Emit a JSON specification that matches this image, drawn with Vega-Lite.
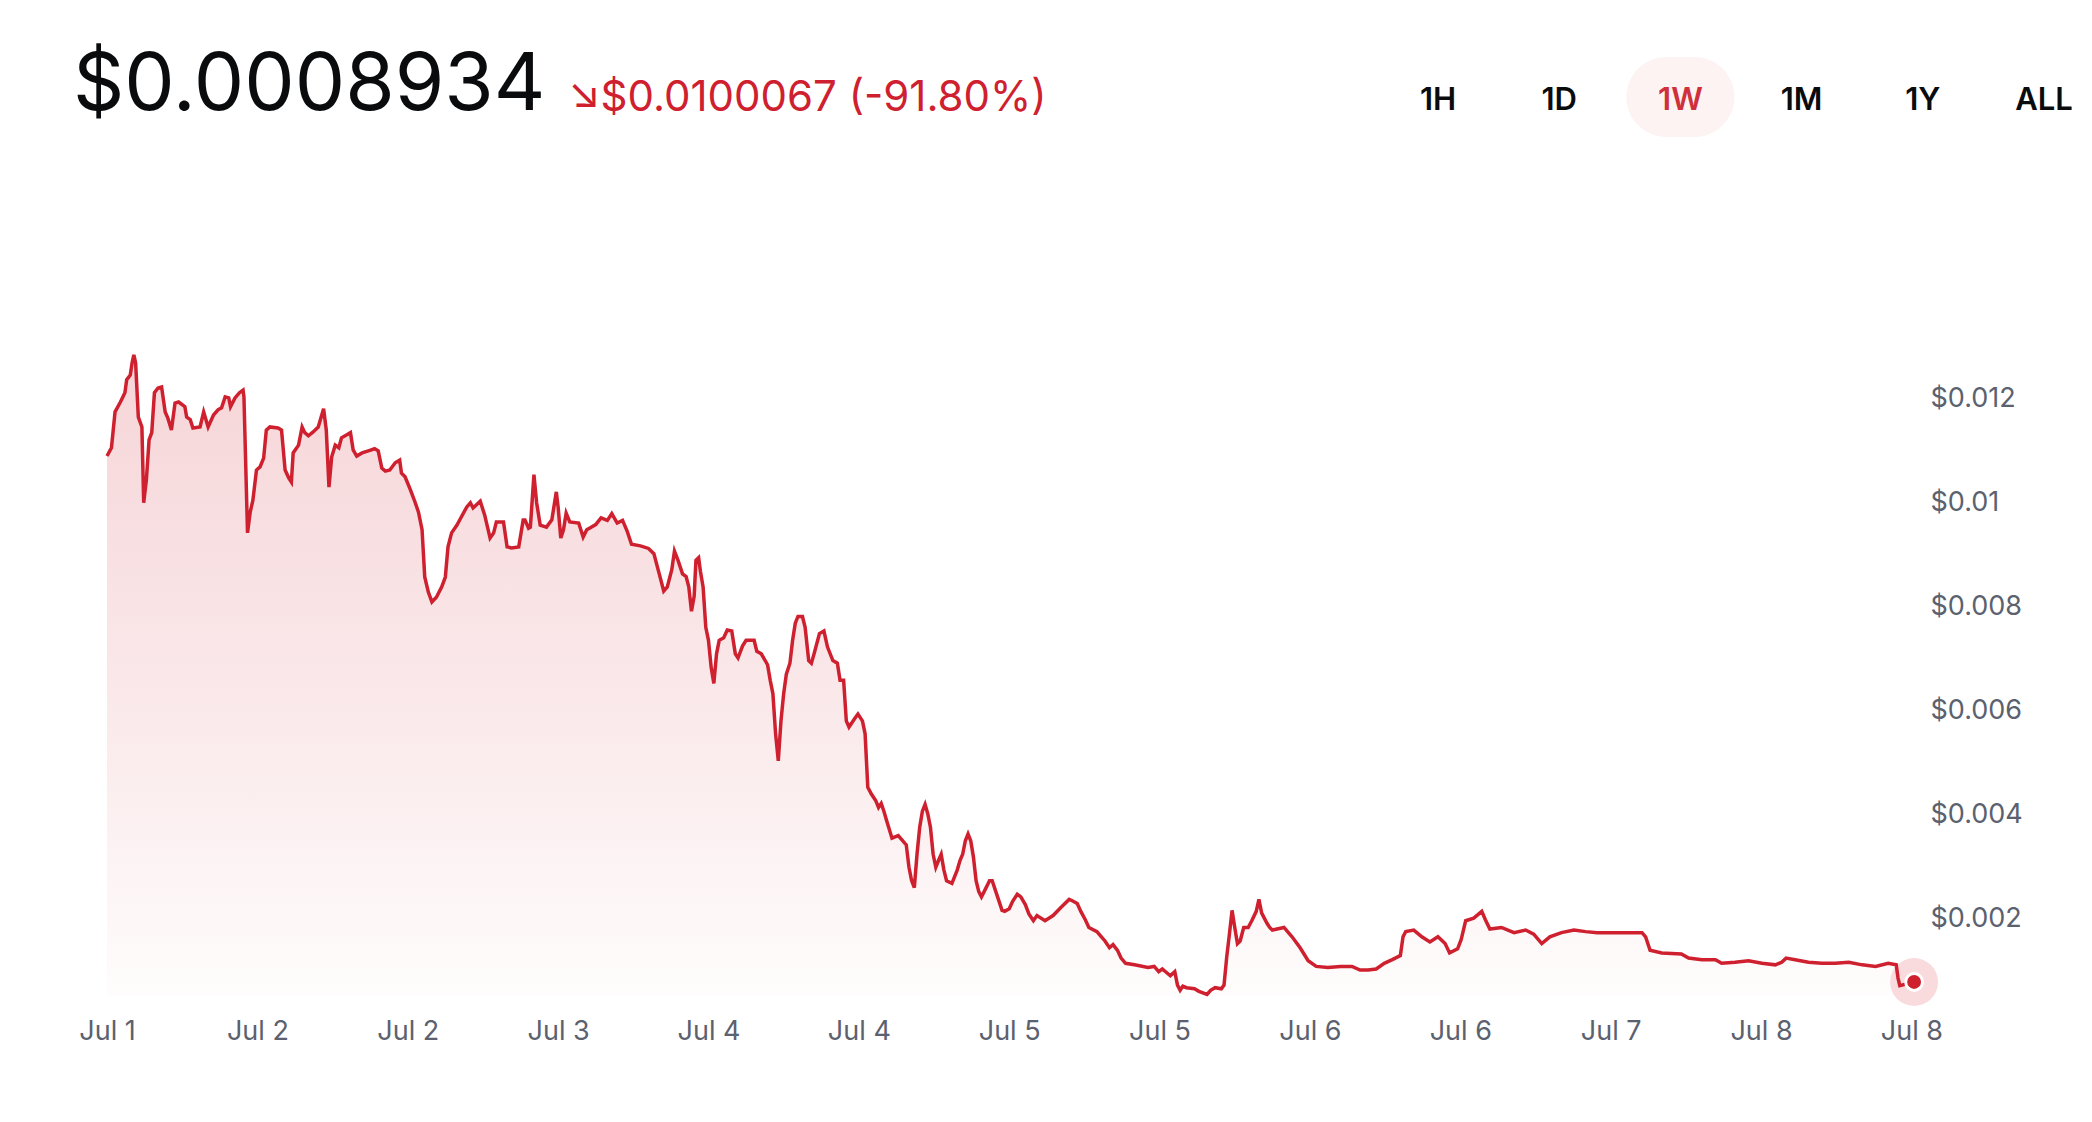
{
  "$schema": "https://vega.github.io/schema/vega-lite/v6.json",
  "background": "white",
  "padding": {"left": 73, "top": 0, "right": 0, "bottom": 40},
  "spacing": 153,
  "config": {"view": {"stroke": null}, "font": "Inter"},
  "datasets": {
    "price": [
      {"t":"2024-07-01T17:00","p":0.01090},{"t":"2024-07-01T17:25","p":0.01106},{"t":"2024-07-01T17:45","p":0.01175},{"t":"2024-07-01T18:15","p":0.01194},
      {"t":"2024-07-01T18:40","p":0.01212},{"t":"2024-07-01T18:50","p":0.01237},{"t":"2024-07-01T19:10","p":0.01246},{"t":"2024-07-01T19:20","p":0.01269},
      {"t":"2024-07-01T19:30","p":0.01285},{"t":"2024-07-01T19:40","p":0.01269},{"t":"2024-07-01T19:55","p":0.01165},{"t":"2024-07-01T20:15","p":0.01146},
      {"t":"2024-07-01T20:25","p":0.01000},{"t":"2024-07-01T20:40","p":0.01044},{"t":"2024-07-01T20:55","p":0.01121},{"t":"2024-07-01T21:10","p":0.01135},
      {"t":"2024-07-01T21:25","p":0.01212},{"t":"2024-07-01T21:45","p":0.01221},{"t":"2024-07-01T22:05","p":0.01223},{"t":"2024-07-01T22:25","p":0.01175},
      {"t":"2024-07-01T22:40","p":0.01163},{"t":"2024-07-01T23:00","p":0.01140},{"t":"2024-07-01T23:20","p":0.01192},{"t":"2024-07-01T23:40","p":0.01194},
      {"t":"2024-07-02T00:15","p":0.01185},{"t":"2024-07-02T00:25","p":0.01165},{"t":"2024-07-02T00:45","p":0.01160},{"t":"2024-07-02T01:00","p":0.01144},
      {"t":"2024-07-02T01:40","p":0.01146},{"t":"2024-07-02T02:00","p":0.01175},{"t":"2024-07-02T02:25","p":0.01146},{"t":"2024-07-02T02:55","p":0.01169},
      {"t":"2024-07-02T03:20","p":0.01179},{"t":"2024-07-02T03:40","p":0.01183},{"t":"2024-07-02T04:00","p":0.01204},{"t":"2024-07-02T04:20","p":0.01202},
      {"t":"2024-07-02T04:30","p":0.01185},{"t":"2024-07-02T04:55","p":0.01202},{"t":"2024-07-02T05:20","p":0.01212},{"t":"2024-07-02T05:40","p":0.01217},
      {"t":"2024-07-02T05:45","p":0.01204},{"t":"2024-07-02T06:05","p":0.00942},{"t":"2024-07-02T06:20","p":0.00982},{"t":"2024-07-02T06:35","p":0.01005},
      {"t":"2024-07-02T06:55","p":0.01063},{"t":"2024-07-02T07:15","p":0.01069},{"t":"2024-07-02T07:35","p":0.01086},{"t":"2024-07-02T07:50","p":0.01140},
      {"t":"2024-07-02T08:10","p":0.01146},{"t":"2024-07-02T08:55","p":0.01144},{"t":"2024-07-02T09:15","p":0.01140},{"t":"2024-07-02T09:35","p":0.01063},
      {"t":"2024-07-02T09:55","p":0.01048},{"t":"2024-07-02T10:10","p":0.01040},{"t":"2024-07-02T10:20","p":0.01096},{"t":"2024-07-02T10:50","p":0.01111},
      {"t":"2024-07-02T11:10","p":0.01146},{"t":"2024-07-02T11:25","p":0.01135},{"t":"2024-07-02T11:45","p":0.01129},{"t":"2024-07-02T12:10","p":0.01136},
      {"t":"2024-07-02T12:40","p":0.01146},{"t":"2024-07-02T13:10","p":0.01181},{"t":"2024-07-02T13:25","p":0.01140},{"t":"2024-07-02T13:40","p":0.01030},
      {"t":"2024-07-02T13:55","p":0.01088},{"t":"2024-07-02T14:15","p":0.01111},{"t":"2024-07-02T14:35","p":0.01106},{"t":"2024-07-02T14:50","p":0.01125},
      {"t":"2024-07-02T15:20","p":0.01131},{"t":"2024-07-02T15:40","p":0.01135},{"t":"2024-07-02T15:55","p":0.01102},{"t":"2024-07-02T16:15","p":0.01090},
      {"t":"2024-07-02T16:45","p":0.01096},{"t":"2024-07-02T17:20","p":0.01100},{"t":"2024-07-02T17:55","p":0.01104},{"t":"2024-07-02T18:15","p":0.01100},
      {"t":"2024-07-02T18:35","p":0.01067},{"t":"2024-07-02T18:55","p":0.01061},{"t":"2024-07-02T19:20","p":0.01063},{"t":"2024-07-02T19:50","p":0.01077},
      {"t":"2024-07-02T20:15","p":0.01082},{"t":"2024-07-02T20:25","p":0.01057},{"t":"2024-07-02T20:45","p":0.01050},{"t":"2024-07-02T21:15","p":0.01025},
      {"t":"2024-07-02T21:40","p":0.01002},{"t":"2024-07-02T22:00","p":0.00982},{"t":"2024-07-02T22:20","p":0.00948},{"t":"2024-07-02T22:35","p":0.00857},
      {"t":"2024-07-02T22:55","p":0.00828},{"t":"2024-07-02T23:15","p":0.00809},{"t":"2024-07-02T23:40","p":0.00818},
      {"t":"2024-07-03T00:10","p":0.00838},{"t":"2024-07-03T00:30","p":0.00857},{"t":"2024-07-03T00:45","p":0.00915},{"t":"2024-07-03T01:05","p":0.00942},
      {"t":"2024-07-03T01:35","p":0.00957},{"t":"2024-07-03T02:00","p":0.00973},{"t":"2024-07-03T02:30","p":0.00992},{"t":"2024-07-03T02:50","p":0.01000},
      {"t":"2024-07-03T03:05","p":0.00990},{"t":"2024-07-03T03:45","p":0.01003},{"t":"2024-07-03T04:10","p":0.00976},{"t":"2024-07-03T04:40","p":0.00932},
      {"t":"2024-07-03T05:00","p":0.00942},{"t":"2024-07-03T05:15","p":0.00963},{"t":"2024-07-03T05:55","p":0.00963},{"t":"2024-07-03T06:15","p":0.00915},
      {"t":"2024-07-03T06:40","p":0.00913},{"t":"2024-07-03T07:20","p":0.00915},{"t":"2024-07-03T07:45","p":0.00967},{"t":"2024-07-03T07:55","p":0.00967},
      {"t":"2024-07-03T08:15","p":0.00951},{"t":"2024-07-03T08:25","p":0.00953},{"t":"2024-07-03T08:45","p":0.01054},{"t":"2024-07-03T09:00","p":0.01000},
      {"t":"2024-07-03T09:20","p":0.00957},{"t":"2024-07-03T09:55","p":0.00953},{"t":"2024-07-03T10:25","p":0.00967},{"t":"2024-07-03T10:50","p":0.01021},
      {"t":"2024-07-03T11:00","p":0.00992},{"t":"2024-07-03T11:15","p":0.00932},{"t":"2024-07-03T11:30","p":0.00948},{"t":"2024-07-03T11:45","p":0.00980},
      {"t":"2024-07-03T12:05","p":0.00963},{"t":"2024-07-03T12:55","p":0.00961},{"t":"2024-07-03T13:20","p":0.00934},{"t":"2024-07-03T13:40","p":0.00948},
      {"t":"2024-07-03T14:00","p":0.00952},{"t":"2024-07-03T14:30","p":0.00958},{"t":"2024-07-03T15:00","p":0.00971},{"t":"2024-07-03T15:35","p":0.00966},
      {"t":"2024-07-03T16:00","p":0.00979},{"t":"2024-07-03T16:30","p":0.00961},{"t":"2024-07-03T17:00","p":0.00966},{"t":"2024-07-03T17:25","p":0.00946},
      {"t":"2024-07-03T17:50","p":0.00920},{"t":"2024-07-03T18:40","p":0.00917},{"t":"2024-07-03T19:25","p":0.00912},{"t":"2024-07-03T19:55","p":0.00902},
      {"t":"2024-07-03T20:25","p":0.00863},{"t":"2024-07-03T20:50","p":0.00830},{"t":"2024-07-03T21:10","p":0.00838},{"t":"2024-07-03T21:35","p":0.00871},
      {"t":"2024-07-03T21:50","p":0.00907},{"t":"2024-07-03T22:10","p":0.00889},{"t":"2024-07-03T22:35","p":0.00863},{"t":"2024-07-03T22:55","p":0.00858},
      {"t":"2024-07-03T23:10","p":0.00838},{"t":"2024-07-03T23:25","p":0.00791},{"t":"2024-07-03T23:40","p":0.00820},{"t":"2024-07-03T23:50","p":0.00889},
      {"t":"2024-07-04T00:05","p":0.00894},{"t":"2024-07-04T00:15","p":0.00868},{"t":"2024-07-04T00:30","p":0.00838},{"t":"2024-07-04T00:45","p":0.00760},
      {"t":"2024-07-04T01:00","p":0.00735},{"t":"2024-07-04T01:15","p":0.00683},{"t":"2024-07-04T01:30","p":0.00652},{"t":"2024-07-04T01:45","p":0.00709},
      {"t":"2024-07-04T02:00","p":0.00735},{"t":"2024-07-04T02:25","p":0.00740},{"t":"2024-07-04T02:45","p":0.00755},{"t":"2024-07-04T03:10","p":0.00753},
      {"t":"2024-07-04T03:30","p":0.00709},{"t":"2024-07-04T03:45","p":0.00701},{"t":"2024-07-04T04:10","p":0.00724},{"t":"2024-07-04T04:30","p":0.00735},
      {"t":"2024-07-04T05:15","p":0.00735},{"t":"2024-07-04T05:30","p":0.00714},{"t":"2024-07-04T05:55","p":0.00709},{"t":"2024-07-04T06:30","p":0.00688},
      {"t":"2024-07-04T06:45","p":0.00658},{"t":"2024-07-04T07:00","p":0.00632},{"t":"2024-07-04T07:15","p":0.00555},{"t":"2024-07-04T07:30","p":0.00503},
      {"t":"2024-07-04T07:45","p":0.00580},{"t":"2024-07-04T08:00","p":0.00632},{"t":"2024-07-04T08:15","p":0.00670},{"t":"2024-07-04T08:35","p":0.00691},
      {"t":"2024-07-04T08:50","p":0.00735},{"t":"2024-07-04T09:05","p":0.00768},{"t":"2024-07-04T09:20","p":0.00781},{"t":"2024-07-04T09:45","p":0.00781},
      {"t":"2024-07-04T10:00","p":0.00760},{"t":"2024-07-04T10:20","p":0.00696},{"t":"2024-07-04T10:35","p":0.00691},{"t":"2024-07-04T10:50","p":0.00709},
      {"t":"2024-07-04T11:20","p":0.00748},{"t":"2024-07-04T11:45","p":0.00753},{"t":"2024-07-04T12:05","p":0.00722},{"t":"2024-07-04T12:35","p":0.00696},
      {"t":"2024-07-04T13:00","p":0.00691},{"t":"2024-07-04T13:15","p":0.00658},{"t":"2024-07-04T13:35","p":0.00658},{"t":"2024-07-04T13:50","p":0.00580},
      {"t":"2024-07-04T14:05","p":0.00568},{"t":"2024-07-04T14:40","p":0.00586},{"t":"2024-07-04T14:55","p":0.00593},{"t":"2024-07-04T15:20","p":0.00580},
      {"t":"2024-07-04T15:35","p":0.00555},{"t":"2024-07-04T15:50","p":0.00452},{"t":"2024-07-04T16:10","p":0.00439},{"t":"2024-07-04T16:35","p":0.00426},
      {"t":"2024-07-04T16:50","p":0.00413},{"t":"2024-07-04T17:05","p":0.00421},{"t":"2024-07-04T17:20","p":0.00406},{"t":"2024-07-04T17:35","p":0.00388},
      {"t":"2024-07-04T18:05","p":0.00354},{"t":"2024-07-04T18:40","p":0.00359},{"t":"2024-07-04T19:25","p":0.00341},{"t":"2024-07-04T19:40","p":0.00298},
      {"t":"2024-07-04T19:55","p":0.00272},{"t":"2024-07-04T20:10","p":0.00259},{"t":"2024-07-04T20:25","p":0.00323},{"t":"2024-07-04T20:40","p":0.00375},
      {"t":"2024-07-04T20:55","p":0.00406},{"t":"2024-07-04T21:10","p":0.00419},{"t":"2024-07-04T21:25","p":0.00401},{"t":"2024-07-04T21:40","p":0.00375},
      {"t":"2024-07-04T21:55","p":0.00323},{"t":"2024-07-04T22:10","p":0.00298},{"t":"2024-07-04T22:25","p":0.00311},{"t":"2024-07-04T22:40","p":0.00323},
      {"t":"2024-07-04T22:55","p":0.00293},{"t":"2024-07-04T23:10","p":0.00272},{"t":"2024-07-04T23:40","p":0.00267},
      {"t":"2024-07-05T00:10","p":0.00293},{"t":"2024-07-05T00:25","p":0.00311},{"t":"2024-07-05T00:40","p":0.00323},{"t":"2024-07-05T00:55","p":0.00349},
      {"t":"2024-07-05T01:10","p":0.00362},{"t":"2024-07-05T01:25","p":0.00349},{"t":"2024-07-05T01:40","p":0.00318},{"t":"2024-07-05T01:55","p":0.00272},
      {"t":"2024-07-05T02:10","p":0.00251},{"t":"2024-07-05T02:25","p":0.00241},{"t":"2024-07-05T02:40","p":0.00251},{"t":"2024-07-05T03:10","p":0.00272},
      {"t":"2024-07-05T03:25","p":0.00272},{"t":"2024-07-05T03:55","p":0.00241},{"t":"2024-07-05T04:20","p":0.00215},{"t":"2024-07-05T04:35","p":0.00213},
      {"t":"2024-07-05T05:00","p":0.00218},{"t":"2024-07-05T05:20","p":0.00233},{"t":"2024-07-05T05:45","p":0.00246},{"t":"2024-07-05T06:05","p":0.00241},
      {"t":"2024-07-05T06:30","p":0.00226},{"t":"2024-07-05T06:50","p":0.00208},{"t":"2024-07-05T07:15","p":0.00195},{"t":"2024-07-05T07:35","p":0.00205},
      {"t":"2024-07-05T08:20","p":0.00195},{"t":"2024-07-05T09:05","p":0.00205},{"t":"2024-07-05T09:50","p":0.00221},{"t":"2024-07-05T10:35","p":0.00236},
      {"t":"2024-07-05T10:55","p":0.00233},{"t":"2024-07-05T11:20","p":0.00228},{"t":"2024-07-05T11:40","p":0.00213},{"t":"2024-07-05T12:05","p":0.00197},
      {"t":"2024-07-05T12:25","p":0.00182},{"t":"2024-07-05T13:10","p":0.00174},{"t":"2024-07-05T13:35","p":0.00164},{"t":"2024-07-05T13:55","p":0.00156},
      {"t":"2024-07-05T14:20","p":0.00143},{"t":"2024-07-05T14:40","p":0.00149},{"t":"2024-07-05T15:05","p":0.00138},{"t":"2024-07-05T15:25","p":0.00123},
      {"t":"2024-07-05T15:50","p":0.00113},{"t":"2024-07-05T16:40","p":0.00110},{"t":"2024-07-05T17:55","p":0.00105},{"t":"2024-07-05T18:30","p":0.00107},
      {"t":"2024-07-05T18:55","p":0.00097},{"t":"2024-07-05T19:15","p":0.00102},{"t":"2024-07-05T20:00","p":0.00089},{"t":"2024-07-05T20:25","p":0.00097},
      {"t":"2024-07-05T20:40","p":0.00071},{"t":"2024-07-05T20:55","p":0.00061},{"t":"2024-07-05T21:10","p":0.00069},{"t":"2024-07-05T21:30","p":0.00066},
      {"t":"2024-07-05T22:15","p":0.00064},{"t":"2024-07-05T22:40","p":0.00059},{"t":"2024-07-05T23:25","p":0.00053},{"t":"2024-07-05T23:45","p":0.00061},
      {"t":"2024-07-06T00:10","p":0.00066},{"t":"2024-07-06T00:45","p":0.00064},{"t":"2024-07-06T01:00","p":0.00071},{"t":"2024-07-06T01:15","p":0.00125},
      {"t":"2024-07-06T01:30","p":0.00169},{"t":"2024-07-06T01:45","p":0.00215},{"t":"2024-07-06T02:00","p":0.00182},{"t":"2024-07-06T02:15","p":0.00151},
      {"t":"2024-07-06T02:30","p":0.00156},{"t":"2024-07-06T02:50","p":0.00182},{"t":"2024-07-06T03:15","p":0.00182},{"t":"2024-07-06T03:35","p":0.00195},
      {"t":"2024-07-06T04:00","p":0.00213},{"t":"2024-07-06T04:15","p":0.00236},{"t":"2024-07-06T04:30","p":0.00210},{"t":"2024-07-06T04:45","p":0.00200},
      {"t":"2024-07-06T05:00","p":0.00190},{"t":"2024-07-06T05:15","p":0.00182},{"t":"2024-07-06T05:30","p":0.00177},{"t":"2024-07-06T06:35","p":0.00182},
      {"t":"2024-07-06T07:20","p":0.00164},{"t":"2024-07-06T08:05","p":0.00143},{"t":"2024-07-06T08:50","p":0.00118},{"t":"2024-07-06T09:35","p":0.00107},
      {"t":"2024-07-06T10:40","p":0.00105},{"t":"2024-07-06T11:50","p":0.00107},{"t":"2024-07-06T12:55","p":0.00107},{"t":"2024-07-06T13:40","p":0.00100},
      {"t":"2024-07-06T14:25","p":0.00100},{"t":"2024-07-06T15:10","p":0.00102},{"t":"2024-07-06T15:55","p":0.00113},{"t":"2024-07-06T16:40","p":0.00120},
      {"t":"2024-07-06T17:25","p":0.00128},{"t":"2024-07-06T17:40","p":0.00164},{"t":"2024-07-06T17:55","p":0.00174},{"t":"2024-07-06T18:40","p":0.00177},
      {"t":"2024-07-06T19:25","p":0.00164},{"t":"2024-07-06T20:10","p":0.00154},{"t":"2024-07-06T20:55","p":0.00164},{"t":"2024-07-06T21:35","p":0.00151},
      {"t":"2024-07-06T22:00","p":0.00133},{"t":"2024-07-06T22:45","p":0.00141},{"t":"2024-07-06T23:05","p":0.00159},{"t":"2024-07-06T23:30","p":0.00195},
      {"t":"2024-07-07T00:15","p":0.00200},{"t":"2024-07-07T01:00","p":0.00213},{"t":"2024-07-07T01:20","p":0.00197},{"t":"2024-07-07T01:45","p":0.00179},
      {"t":"2024-07-07T02:50","p":0.00182},{"t":"2024-07-07T04:00","p":0.00172},{"t":"2024-07-07T05:05","p":0.00177},{"t":"2024-07-07T05:50","p":0.00169},
      {"t":"2024-07-07T06:35","p":0.00151},{"t":"2024-07-07T07:20","p":0.00164},{"t":"2024-07-07T08:25","p":0.00172},{"t":"2024-07-07T09:35","p":0.00177},
      {"t":"2024-07-07T10:40","p":0.00174},{"t":"2024-07-07T11:45","p":0.00172},{"t":"2024-07-07T12:55","p":0.00172},{"t":"2024-07-07T14:00","p":0.00172},
      {"t":"2024-07-07T15:10","p":0.00172},{"t":"2024-07-07T15:55","p":0.00172},{"t":"2024-07-07T16:15","p":0.00164},{"t":"2024-07-07T16:40","p":0.00138},
      {"t":"2024-07-07T17:45","p":0.00133},{"t":"2024-07-07T19:35","p":0.00131},{"t":"2024-07-07T20:15","p":0.00123},{"t":"2024-07-07T21:30","p":0.00120},
      {"t":"2024-07-07T22:45","p":0.00120},{"t":"2024-07-07T23:20","p":0.00113},
      {"t":"2024-07-08T00:35","p":0.00115},{"t":"2024-07-08T01:50","p":0.00118},{"t":"2024-07-08T03:05","p":0.00113},{"t":"2024-07-08T04:20","p":0.00110},
      {"t":"2024-07-08T04:55","p":0.00115},{"t":"2024-07-08T05:20","p":0.00123},{"t":"2024-07-08T06:10","p":0.00120},{"t":"2024-07-08T07:25","p":0.00115},
      {"t":"2024-07-08T08:40","p":0.00113},{"t":"2024-07-08T09:55","p":0.00113},{"t":"2024-07-08T11:10","p":0.00115},{"t":"2024-07-08T12:25","p":0.00110},
      {"t":"2024-07-08T13:40","p":0.00107},{"t":"2024-07-08T14:50","p":0.00113},{"t":"2024-07-08T15:35","p":0.00110},{"t":"2024-07-08T15:45","p":0.00085},
      {"t":"2024-07-08T15:55","p":0.00070},{"t":"2024-07-08T17:15","p":0.00077}
    ]
  },
  "vconcat": [
    {
      "width": 1990,
      "height": 194,
      "resolve": {"scale": {"x": "independent", "color": "independent"}},
      "layer": [
        {
          "data": {"values": [{"role": "price", "label": "$0.0008934"}]},
          "mark": {"type": "text", "align": "left", "baseline": "alphabetic", "font": "Inter", "fontSize": 80, "fontWeight": 400, "color": "#0a0b0d", "dy": 13},
          "encoding": {
            "x": {"field": "role", "type": "nominal", "scale": {"type": "point", "domain": ["price", "change"], "range": [0, 495], "padding": 0}, "axis": null},
            "text": {"field": "label"}
          }
        },
        {
          "data": {"values": [{"role": "change", "label": "↘$0.0100067 (-91.80%)"}]},
          "mark": {"type": "text", "align": "left", "baseline": "alphabetic", "font": "Inter", "fontSize": 42, "fontWeight": 400, "color": "#cf202f", "dy": 14},
          "encoding": {
            "x": {"field": "role", "type": "nominal", "scale": {"type": "point", "domain": ["price", "change"], "range": [0, 495], "padding": 0}, "axis": null},
            "text": {"field": "label"}
          }
        },
        {
          "data": {"values": [{"label": "1W"}]},
          "mark": {"type": "point", "filled": true, "opacity": 1, "color": "#fdf3f3", "size": 11664, "shape": "M -0.259 -0.741 L 0.259 -0.741 A 0.741 0.741 0 0 1 0.259 0.741 L -0.259 0.741 A 0.741 0.741 0 0 1 -0.259 -0.741 Z"},
          "encoding": {
            "x": {"field": "label", "type": "nominal", "scale": {"type": "point", "domain": ["1H", "1D", "1W", "1M", "1Y", "ALL"], "range": [1365, 1971], "padding": 0}, "axis": null}
          }
        },
        {
          "data": {"values": [
            {"label": "1H", "state": "idle"}, {"label": "1D", "state": "idle"}, {"label": "1W", "state": "active"},
            {"label": "1M", "state": "idle"}, {"label": "1Y", "state": "idle"}, {"label": "ALL", "state": "idle"}
          ]},
          "mark": {"type": "text", "align": "center", "baseline": "alphabetic", "font": "Inter", "fontSize": 31, "fontWeight": 600, "dy": 13},
          "encoding": {
            "x": {"field": "label", "type": "nominal", "scale": {"type": "point", "domain": ["1H", "1D", "1W", "1M", "1Y", "ALL"], "range": [1365, 1971], "padding": 0}, "axis": null},
            "text": {"field": "label"},
            "color": {"field": "state", "type": "nominal", "scale": {"domain": ["idle", "active"], "range": ["#0a0b0d", "#d02f3c"]}, "legend": null}
          }
        }
      ]
    },
    {
      "width": 1842,
      "height": 649,
      "data": {"name": "price"},
      "encoding": {
        "x": {
          "field": "t", "type": "temporal",
          "scale": {
            "domain": [{"year": 2024, "month": 7, "date": 1, "hours": 17}, {"year": 2024, "month": 7, "date": 8, "hours": 17, "minutes": 20}],
            "range": [34, 1842]
          },
          "axis": {
            "values": [
              {"year": 2024, "month": 7, "date": 1, "hours": 17},
              {"year": 2024, "month": 7, "date": 2, "hours": 7},
              {"year": 2024, "month": 7, "date": 2, "hours": 21},
              {"year": 2024, "month": 7, "date": 3, "hours": 11},
              {"year": 2024, "month": 7, "date": 4, "hours": 1},
              {"year": 2024, "month": 7, "date": 4, "hours": 15},
              {"year": 2024, "month": 7, "date": 5, "hours": 5},
              {"year": 2024, "month": 7, "date": 5, "hours": 19},
              {"year": 2024, "month": 7, "date": 6, "hours": 9},
              {"year": 2024, "month": 7, "date": 6, "hours": 23},
              {"year": 2024, "month": 7, "date": 7, "hours": 13},
              {"year": 2024, "month": 7, "date": 8, "hours": 3},
              {"year": 2024, "month": 7, "date": 8, "hours": 17}
            ],
            "format": "%b %-d",
            "title": null,
            "domain": false,
            "ticks": false,
            "tickSize": 0,
            "grid": false,
            "labelPadding": 22,
            "labelFont": "Inter",
            "labelFontSize": 27,
            "labelColor": "#5b616e",
            "labelOverlap": false,
            "labelFlush": false
          }
        },
        "y": {
          "field": "p", "type": "quantitative",
          "scale": {"domain": [0.0005, 0.013], "zero": false, "nice": false},
          "axis": {
            "orient": "right",
            "values": [0.002, 0.004, 0.006, 0.008, 0.01, 0.012],
            "format": "$.3~f",
            "title": null,
            "domain": false,
            "ticks": false,
            "tickSize": 0,
            "grid": false,
            "labelPadding": 15,
            "labelFont": "Inter",
            "labelFontSize": 27,
            "labelColor": "#5b616e"
          }
        }
      },
      "layer": [
        {
          "mark": {
            "type": "area",
            "interpolate": "linear",
            "color": {
              "gradient": "linear", "x1": 0, "y1": 0, "x2": 0, "y2": 1,
              "stops": [
                {"offset": 0, "color": "rgba(207,32,47,0.19)"},
                {"offset": 0.6, "color": "rgba(207,32,47,0.09)"},
                {"offset": 1, "color": "rgba(207,32,47,0.01)"}
              ]
            }
          },
          "encoding": {"y2": {"datum": 0.0005}}
        },
        {
          "transform": [{"filter": {"field": "t", "equal": {"year": 2024, "month": 7, "date": 8, "hours": 17, "minutes": 15}}}],
          "mark": {"type": "point", "filled": true, "opacity": 1, "size": 2290, "color": "#f9dadd"}
        },
        {
          "mark": {"type": "line", "interpolate": "linear", "color": "#cf202f", "strokeWidth": 3.5}
        },
        {
          "transform": [{"filter": {"field": "t", "equal": {"year": 2024, "month": 7, "date": 8, "hours": 17, "minutes": 15}}}],
          "mark": {"type": "point", "filled": true, "opacity": 1, "size": 283, "color": "#cf202f", "stroke": "white", "strokeWidth": 3}
        }
      ]
    }
  ]
}
